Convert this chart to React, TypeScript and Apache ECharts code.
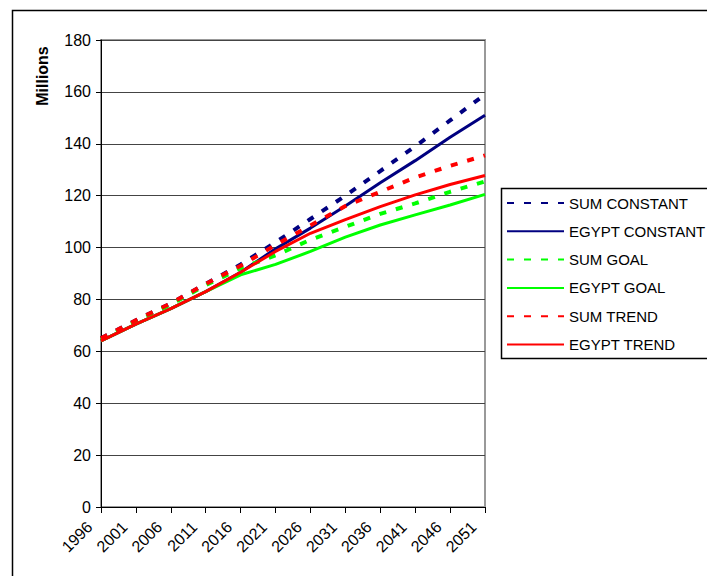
import React, { useEffect, useRef } from "react";
import * as echarts from "echarts";

const years = ["1996", "2001", "2006", "2011", "2016", "2021", "2026", "2031", "2036", "2041", "2046", "2051"];
const sumConstant = [65, 72, 78.5, 86, 93.5, 102, 111, 120, 129.5, 139, 149, 159];
const egyptConstant = [64, 70.5, 76.5, 83, 90.5, 99.5, 107.5, 116, 125, 133.5, 142.5, 151];
const sumGoal = [64.5, 71.5, 78, 85.5, 92, 97, 103, 108, 113, 117, 121.5, 125.5];
const egyptGoal = [64, 70.5, 76.5, 83, 89.5, 93.5, 98.5, 104, 108.7, 112.6, 116.4, 120.5];
const sumTrend = [65, 72, 78.5, 86, 93, 101, 108.5, 116, 121.5, 127, 131.5, 135.5];
const egyptTrend = [64, 70.5, 76.5, 83, 90.5, 98.5, 105.5, 110.8, 115.8, 120.3, 124.3, 127.8];

const NAVY = "#000080";
const GREEN = "#00FF00";
const RED = "#FF0000";
const FONT = "'Liberation Sans', Arial, sans-serif";

function mk(name: string, data: number[], color: string, dashed: boolean) {
  return {
    name,
    type: "line",
    data,
    symbol: "none",
    showSymbol: false,
    lineStyle: dashed
      ? { color, width: 4, type: [7, 10], cap: "butt" }
      : { color, width: 3, type: "solid" },
    itemStyle: { color },
  };
}

export default function App() {
  const ref = useRef<HTMLDivElement>(null);
  useEffect(() => {
    if (!ref.current) return;
    const chart = echarts.init(ref.current, null, { renderer: "svg" });
    chart.setOption({
      animation: false,
      backgroundColor: "#fff",
      textStyle: { fontFamily: FONT },
      grid: {
        left: 101,
        right: 222,
        top: 40,
        bottom: 69,
        show: true,
        borderColor: "#999",
        borderWidth: 2,
        outerBoundsMode: "none",
      },
      legend: {
        orient: "vertical",
        left: 501,
        top: 190,
        padding: 5,
        itemWidth: 57,
        itemHeight: 16,
        itemGap: 12.3,
        itemStyle: { opacity: 0 },
        textStyle: { fontSize: 15, color: "#000", fontFamily: FONT, lineHeight: 16 },
        data: ["SUM CONSTANT", "EGYPT CONSTANT", "SUM GOAL", "EGYPT GOAL", "SUM TREND", "EGYPT TREND"],
      },
      xAxis: {
        type: "category",
        data: years,
        boundaryGap: false,
        axisLine: { lineStyle: { color: "#000", width: 1 } },
        axisTick: { show: true, length: 6, lineStyle: { color: "#000" } },
        axisLabel: {
          rotate: 45,
          fontSize: 16,
          color: "#000",
          margin: 6,
          padding: [0, 16, 0, 0],
          fontFamily: FONT,
          interval: 0,
        },
        splitLine: { show: false },
      },
      yAxis: {
        type: "value",
        min: 0,
        max: 180,
        interval: 20,
        axisLine: { show: true, lineStyle: { color: "#000", width: 1 } },
        axisTick: { show: true, length: 5, lineStyle: { color: "#000" } },
        axisLabel: { fontSize: 16, color: "#000", margin: 10, fontFamily: FONT },
        splitLine: { show: true, lineStyle: { color: "#444", width: 1 } },
      },
      graphic: [
        {
          type: "rect",
          shape: { x: 12.5, y: 10.5, width: 900, height: 800 },
          style: { fill: "none", stroke: "#000", lineWidth: 1.5 },
          silent: true,
          z: 0,
        },
        {
          type: "rect",
          shape: { x: 501.5, y: 188.5, width: 400, height: 170 },
          style: { fill: "none", stroke: "#000", lineWidth: 1.5 },
          silent: true,
        },
        {
          type: "text",
          x: 42,
          y: 76,
          rotation: Math.PI / 2,
          style: {
            text: "Millions",
            fontSize: 16,
            fontWeight: "bold",
            fontFamily: FONT,
            fill: "#000",
            align: "center",
            verticalAlign: "middle",
          },
        },
      ],
      series: [
        mk("SUM CONSTANT", sumConstant, NAVY, true),
        mk("EGYPT CONSTANT", egyptConstant, NAVY, false),
        mk("SUM GOAL", sumGoal, GREEN, true),
        mk("EGYPT GOAL", egyptGoal, GREEN, false),
        mk("SUM TREND", sumTrend, RED, true),
        mk("EGYPT TREND", egyptTrend, RED, false),
      ],
    });
    return () => chart.dispose();
  }, []);
  return (
    <div
      ref={ref}
      style={{ position: "absolute", left: 0, top: 0, width: 707, height: 576 }}
    />
  );
}
